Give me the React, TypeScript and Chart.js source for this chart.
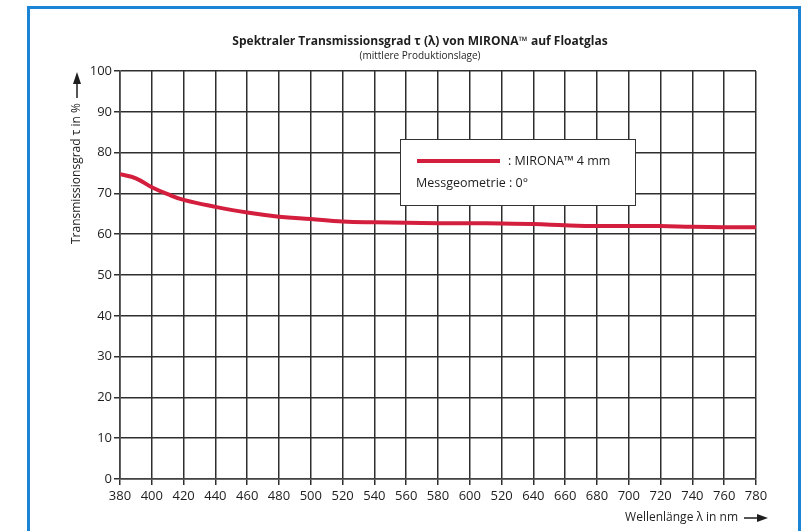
import React, { useEffect, useRef } from "react";
import { Chart, registerables } from "chart.js";

Chart.register(...registerables);

const wavelengths = [380, 390, 400, 410, 420, 440, 460, 480, 500, 520, 540, 560, 580, 600, 620, 640, 660, 680, 700, 720, 740, 760, 780];
const transmission = [74.7, 73.7, 71.5, 69.8, 68.4, 66.7, 65.3, 64.3, 63.7, 63.1, 62.9, 62.8, 62.7, 62.7, 62.6, 62.5, 62.2, 62.0, 62.0, 62.0, 61.8, 61.7, 61.7];
const xTickValues = [380, 400, 420, 440, 460, 480, 500, 520, 540, 560, 580, 600, 620, 640, 660, 680, 700, 720, 740, 760, 780];
const xTickLabels = ["380", "400", "420", "440", "460", "480", "500", "520", "540", "560", "580", "600", "520", "640", "660", "680", "700", "720", "740", "760", "780"];
const seriesName = ": MIRONA™ 4 mm";
const legendNote = "Messgeometrie : 0°";
const titleText = "Spektraler Transmissionsgrad τ (λ) von MIRONA™ auf Floatglas";
const subtitleText = "(mittlere Produktionslage)";
const yAxisTitle = "Transmissionsgrad τ in %";
const xAxisTitle = "Wellenlänge λ in nm";

const FONT = "'Open Sans', sans-serif";
const TEXT = "#1e1e1e";
const RED = "#d31f3d";

const overlayPlugin = {
  id: "overlay",
  afterDraw(chart: any) {
    const ctx = chart.ctx as CanvasRenderingContext2D;
    ctx.save();
    // Title
    ctx.fillStyle = TEXT;
    ctx.textAlign = "center";
    ctx.textBaseline = "middle";
    ctx.font = `bold 12px ${FONT}`;
    ctx.fillText(titleText, 420, 42);
    ctx.font = `10px ${FONT}`;
    ctx.fillText(subtitleText, 420, 56);

    // Legend box
    const bx = 400, by = 139, bw = 235, bh = 66;
    ctx.fillStyle = "#fff";
    ctx.fillRect(bx, by, bw, bh);
    ctx.strokeStyle = "#333";
    ctx.lineWidth = 1;
    ctx.strokeRect(bx + 0.5, by + 0.5, bw, bh);
    ctx.strokeStyle = RED;
    ctx.lineWidth = 4;
    ctx.beginPath();
    ctx.moveTo(417, 161);
    ctx.lineTo(500, 161);
    ctx.stroke();
    ctx.fillStyle = TEXT;
    ctx.font = `12.5px ${FONT}`;
    ctx.textAlign = "left";
    ctx.fillText(seriesName, 508, 161);
    ctx.fillText(legendNote, 416, 183);

    // Y axis title with arrow
    ctx.save();
    ctx.translate(77, 244);
    ctx.rotate(-Math.PI / 2);
    ctx.textAlign = "left";
    ctx.font = `12px ${FONT}`;
    ctx.fillText(yAxisTitle, 0, 0);
    const tw = ctx.measureText(yAxisTitle).width;
    ctx.strokeStyle = TEXT;
    ctx.lineWidth = 1.5;
    ctx.beginPath();
    ctx.moveTo(tw + 5, 0);
    ctx.lineTo(tw + 20, 0);
    ctx.stroke();
    ctx.beginPath();
    ctx.moveTo(tw + 31, 0);
    ctx.lineTo(tw + 19, -4);
    ctx.lineTo(tw + 19, 4);
    ctx.closePath();
    ctx.fill();
    ctx.restore();

    // X axis title with arrow
    ctx.textAlign = "right";
    ctx.font = `12px ${FONT}`;
    ctx.fillText(xAxisTitle, 738, 518);
    ctx.strokeStyle = TEXT;
    ctx.lineWidth = 1.5;
    ctx.beginPath();
    ctx.moveTo(744, 518);
    ctx.lineTo(758, 518);
    ctx.stroke();
    ctx.beginPath();
    ctx.moveTo(768, 518);
    ctx.lineTo(757, 514);
    ctx.lineTo(757, 522);
    ctx.closePath();
    ctx.fill();
    ctx.restore();
  },
};

export default function App() {
  const ref = useRef<HTMLCanvasElement | null>(null);
  useEffect(() => {
    if (!ref.current) return;
    const chart = new Chart(ref.current, {
      type: "line",
      data: {
        datasets: [
          {
            label: "MIRONA™ 4 mm",
            data: wavelengths.map((w, i) => ({ x: w, y: transmission[i] })),
            borderColor: RED,
            borderWidth: 4,
            pointRadius: 0,
            tension: 0.4,
            fill: false,
          },
        ],
      },
      options: {
        animation: false,
        responsive: false,
        maintainAspectRatio: false,
        layout: { padding: { top: 71, right: 50, left: 0, bottom: 0 } },
        plugins: { legend: { display: false }, tooltip: { enabled: false }, title: { display: false } },
        scales: {
          x: {
            type: "linear",
            min: 380,
            max: 780,
            afterBuildTicks: (scale: any) => {
              scale.ticks = xTickValues.map((v) => ({ value: v }));
            },
            afterFit: (scale: any) => {
              scale.height = 52;
            },
            ticks: {
              callback: (v: any) => {
                const i = xTickValues.indexOf(Number(v));
                return i >= 0 ? xTickLabels[i] : "";
              },
              color: TEXT,
              font: { family: FONT, size: 13 },
              padding: 3,
              maxRotation: 0,
              autoSkip: false,
            },
            grid: { color: "#2e2e2e", lineWidth: 1.5, tickLength: 6, tickColor: "#2e2e2e" },
            border: { color: "#444", width: 1.6 },
          },
          y: {
            min: 0,
            max: 100,
            afterFit: (scale: any) => {
              scale.width = 120;
            },
            ticks: {
              stepSize: 10,
              color: TEXT,
              font: { family: FONT, size: 13 },
              padding: 2,
            },
            grid: { color: "#2e2e2e", lineWidth: 1.5, tickLength: 6, tickColor: "#2e2e2e" },
            border: { color: "#444", width: 1.6 },
          },
        },
      },
      plugins: [overlayPlugin],
    } as any);
    return () => chart.destroy();
  }, []);

  return (
    <div style={{ position: "fixed", left: 0, top: 0, width: 806, height: 531, background: "#fff", overflow: "hidden" }}>
      <div
        style={{
          position: "absolute",
          left: 27,
          top: 6,
          width: 768,
          height: 560,
          border: "3px solid #1c84d4",
          boxSizing: "content-box",
        }}
      />
      <canvas ref={ref} width={806} height={531} style={{ position: "absolute", left: 0, top: 0 }} />
    </div>
  );
}
